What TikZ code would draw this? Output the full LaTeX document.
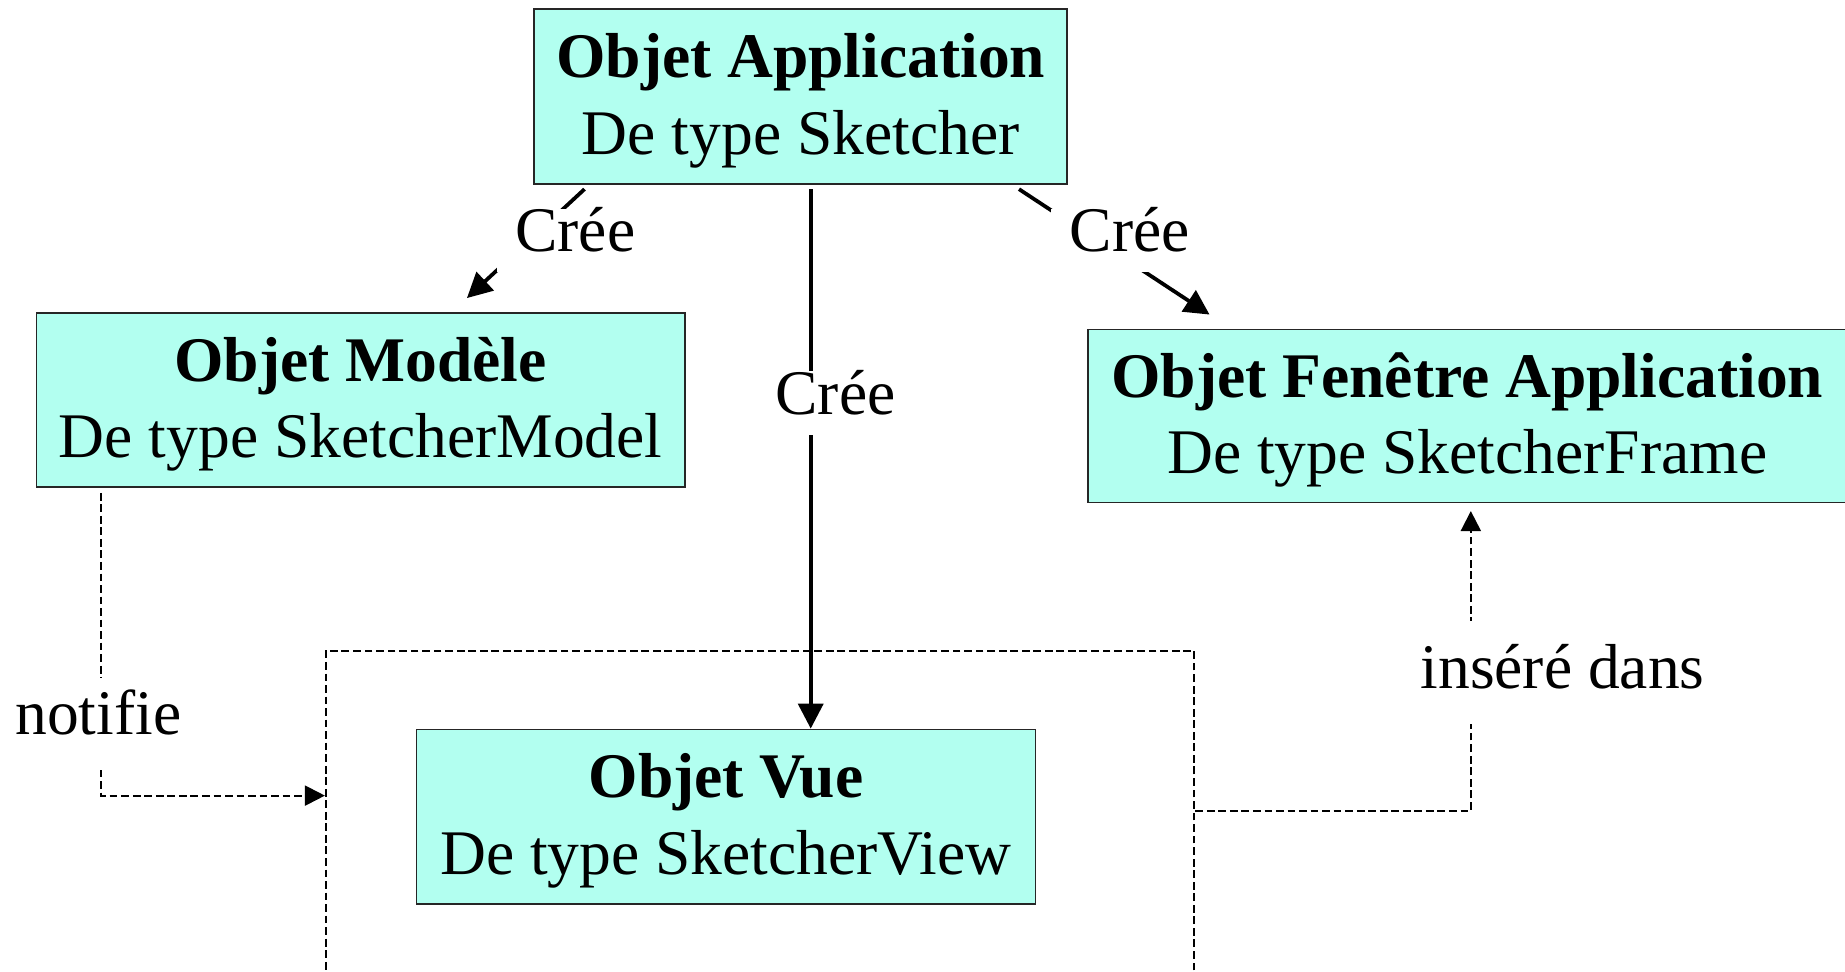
\documentclass[tikz,border=0pt]{standalone}
\usepackage{fontspec}
\setmainfont{Liberation Serif}
\usetikzlibrary{arrows.meta,calc}
\definecolor{boxcol}{RGB}{178,255,240}
\newcommand{\topstrut}{\rule{0pt}{22.5pt}}
\begin{document}
\begin{tikzpicture}[x=0.5pt,y=-0.5pt,
  font=\fontsize{27pt}{32.5pt}\selectfont,
  obj/.style={draw=black!85, line width=0.8pt, fill=boxcol, align=center, inner sep=0pt, minimum height=74pt},
  solidarrow/.style={line width=1.6pt, -{Triangle[length=10.6pt,width=10.6pt]}},
  dasharrow/.style={line width=0.85pt, dash pattern=on 3.3pt off 1.6pt, -{Triangle[length=8.5pt,width=8.5pt]}},
  lbl/.style={fill=white, anchor=base, text height=16.2pt, text depth=6.75pt, inner xsep=8pt, inner ysep=2pt},
  container/.style={draw, line width=0.85pt, dash pattern=on 3.3pt off 1.6pt, inner sep=0pt}
]
\useasboundingbox (0,0) rectangle (1568,826);

% boxes
\node[container, minimum width=369pt, minimum height=173.5pt] (cont) at (646,726.5) {};
\node[obj, minimum width=226.5pt] (app) at (680.5,82) {\topstrut\textbf{Objet Application}\\De type Sketcher};
\node[obj, minimum width=275.5pt] (model) at (306.5,340) {\topstrut\textbf{Objet Modèle}\\De type SketcherModel};
\node[obj, minimum width=322pt, minimum height=73.5pt] (frame) at (1247,353.5) {\topstrut\textbf{Objet Fenêtre Application}\\De type SketcherFrame};
\node[obj, minimum width=263pt] (vue) at (617,694) {\topstrut\textbf{Objet Vue}\\De type SketcherView};

% solid connectors
\draw[solidarrow, shorten <=2.9pt, shorten >=8.75pt] ($(app.south)+(-179.5,0)$) -- ($(model.north)+(77.5,0)$);
\draw[solidarrow, shorten <=3.6pt, shorten >=10.8pt] ($(app.south)+(179.5,0)$) -- ($(frame.north)+(-201,0)$);
\coordinate (m1) at ($(app.south)+(8.5,0)$);
\draw[solidarrow, shorten <=2pt] (m1) -- (m1 |- vue.north);

% dashed connectors
\coordinate (n1) at ($(model.south)+(-220.5,0)$);
\coordinate (n2) at ($(cont.north west)+(0,124)$);
\draw[dasharrow, shorten <=2pt] (n1) |- (n2);
\coordinate (i1) at ($(cont.north east)+(0,137)$);
\coordinate (i2) at ($(frame.south)+(3,0)$);
\draw[dasharrow, shorten >=3.25pt] (i1) -| (i2);

% labels
\node[lbl] (c1) at (489,214) {Crée};
\node[lbl] (c2) at (960,214) {Crée};
\node[lbl] (c3) at (710,352) {Crée};
\node[lbl, inner ysep=8pt] (nt) at (83.5,624.6) {notifie};
\node[lbl, text height=20pt, inner ysep=8.5pt] (ins) at (1328,585) {inséré dans};
\end{tikzpicture}
\end{document}
